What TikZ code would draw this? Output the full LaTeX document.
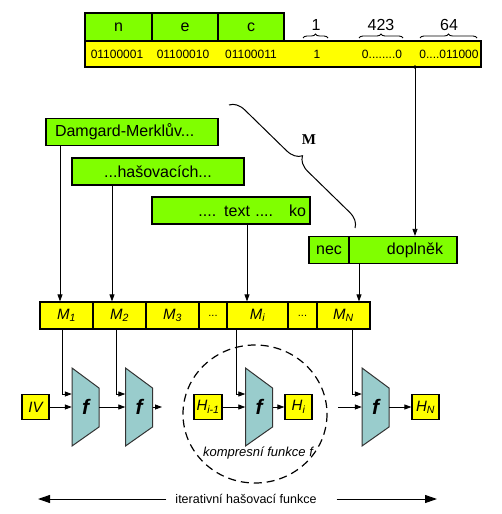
\documentclass[tikz,border=0pt]{standalone}
\usepackage{fontspec}
\setmainfont{Liberation Sans}
\newfontfamily\serifM{Liberation Serif}
\usetikzlibrary{arrows.meta,decorations.pathreplacing}

\definecolor{limeg}{RGB}{128,255,0}
\definecolor{yelw}{RGB}{255,255,0}
\definecolor{ftrap}{RGB}{153,204,204}

\tikzset{
  gbox/.style={draw, line width=1.2pt, fill=limeg, inner sep=0pt, minimum height=27pt,
    font=\fontsize{16}{19}\selectfont},
  ybox/.style={draw, line width=1.2pt, fill=yelw, inner sep=0pt, minimum height=27pt,
    font=\fontsize{15}{18}\selectfont\itshape},
  bit/.style={inner sep=0pt, font=\fontsize{12}{14}\selectfont},
  conn/.style={-{Triangle[length=7pt,width=5pt]}, line width=0.8pt},
  bigconn/.style={-{Triangle[length=12pt,width=8pt]}, line width=1pt},
  trap/.style={fill=ftrap, draw=black!80, line width=1pt},
  fnode/.style={inner sep=0pt, minimum width=27pt, minimum height=78pt,
    font=\fontsize{21}{24}\selectfont\bfseries\itshape},
  brc/.style={decorate, decoration={brace, amplitude=4pt}, line width=0.9pt}
}

\begin{document}
\begin{tikzpicture}[x=1pt, y=-1pt]
    \useasboundingbox (0,0) rectangle (502,514);

    % Message bits
    \node[gbox, minimum width=67pt, minimum height=28pt] (n) at (118.5,27) {n};
    \node[gbox, minimum width=66pt, minimum height=28pt] (e) at (185,27) {e};
    \node[gbox, minimum width=66pt, minimum height=28pt] (c) at (251,27) {c};
    \node[draw, line width=1.5pt, fill=yelw, minimum width=396pt, minimum height=26pt] (bits) at (283,54) {};
    \node[bit] (b1) at (117,54) {01100001};
    \node[bit] (b2) at (183,54) {01100010};
    \node[bit] (b3) at (251,54) {01100011};
    \node[bit] (b4) at (317,54) {1};
    \node[bit] (b5) at (382,54) {0........0};
    \node[bit] (b6) at (449,54) {0....011000};

    % Padding lengths
    \draw[brc] (303,38) -- (328,38);
    \draw[brc] (359,38) -- (403,38);
    \draw[brc] (420,38) -- (477,38);
    \node[font=\fontsize{16}{19}\selectfont] (l1) at (316,25) {1};
    \node[font=\fontsize{16}{19}\selectfont] (l2) at (381,25) {423};
    \node[font=\fontsize{16}{19}\selectfont] (l3) at (449,25) {64};

    % Text blocks
    \node[gbox, minimum width=172pt, text width=154pt, inner xsep=9pt, align=left] (dam) at (132,132) {Damgard-Merklův...};
    \node[gbox, minimum width=172pt] (has) at (158,171.5) {...hašovacích...};
    \node[gbox, minimum width=158pt, text width=150pt, inner xsep=4pt, align=right] (txt) at (231,210.5) {.... text ....\hspace{16pt}ko};
    \node[gbox, minimum width=40pt] (nec) at (329,250) {nec};
    \node[gbox, minimum width=108pt] (dopl) at (403,250) {};
    \node[font=\fontsize{16}{19}\selectfont] (doplt) at (415,250) {doplněk};

    \coordinate (tap) at (415,67);
    \fill (tap) circle (1.8);
    \draw[conn] (tap) -- (tap |- dopl.north);

    % Brace M
    \draw[decorate, decoration={brace, amplitude=15pt}, line width=1pt] (229,105) -- (355,228);
    \node[font=\fontsize{15}{18}\selectfont\serifM\bfseries] (M) at (309,140) {M};

    % Blocks
    \node[ybox, minimum width=53pt] (m1) at (66.5,315.5) {M\textsubscript{1}};
    \node[ybox, minimum width=53pt] (m2) at (119.5,315.5) {M\textsubscript{2}};
    \node[ybox, minimum width=53pt] (m3) at (172.5,315.5) {M\textsubscript{3}};
    \node[ybox, minimum width=28pt, font=\fontsize{11}{13}\selectfont] (md1) at (213,315.5) {...};
    \node[ybox, minimum width=61pt] (mi) at (257.5,315.5) {M\textsubscript{i}};
    \node[ybox, minimum width=29pt, font=\fontsize{11}{13}\selectfont] (md2) at (302.5,315.5) {...};
    \node[ybox, minimum width=53pt] (mN) at (343.5,315.5) {M\textsubscript{N}};

    \draw[conn] (dam.south -| 60,0) -- (m1.north -| 60,0);
    \draw[conn] (has.south -| 112,0) -- (m2.north -| 112,0);
    \draw[conn] (txt.south -| 247,0) -- (mi.north -| 247,0);
    \draw[conn] (dopl.south -| 359,0) -- (mN.north -| 359,0);

    % Compression functions
    \foreach \k/\x in {f1/85.5, f2/139, f3/259, f4/375.5} {
        \filldraw[trap] (\x-13.5,368) -- (\x+13.5,388) -- (\x+13.5,427) -- (\x-13.5,446) -- cycle;
        \node[fnode] (\k) at (\x,407) {f};
    }

    \node[ybox, minimum width=27pt, minimum height=25pt] (iv) at (35.5,407) {IV};
    \node[ybox, minimum width=28pt, minimum height=25pt] (hprev) at (208,407) {H\textsubscript{i-1}};
    \node[ybox, minimum width=27pt, minimum height=25pt] (hi) at (298.5,407) {H\textsubscript{i}};
    \node[ybox, minimum width=27pt, minimum height=25pt] (hN) at (425.5,407) {H\textsubscript{N}};
    \coordinate (gap1) at (162,407);
    \coordinate (gap2) at (338,407);

    \draw[conn] (iv) -- (f1);
    \draw[conn] (f1) -- (f2);
    \draw[conn] (f2) -- (gap1);
    \draw[conn] (hprev) -- (f3);
    \draw[conn] (f3) -- (hi);
    \draw[conn] (gap2) -- (f4);
    \draw[conn] (f4) -- (hN);

    \draw[conn] (m1.south -| 62,0) |- ([yshift=13pt]f1.west);
    \draw[conn] (m2.south -| 116,0) |- ([yshift=13pt]f2.west);
    \draw[conn] (mi.south -| 236,0) |- ([yshift=13pt]f3.west);
    \draw[conn] (mN.south -| 352,0) |- ([yshift=13pt]f4.west);

    % Compression function circle
    \draw[dash pattern=on 8pt off 5pt, line width=1.2pt] (255,414) ellipse [x radius=72, y radius=69];
    \node[font=\fontsize{13}{15}\selectfont\itshape] (komp) at (258,453) {kompresní funkce f};

    % Iterated hash
    \node[font=\fontsize{12.5}{15}\selectfont, inner xsep=9pt] (iter) at (246,499) {iterativní hašovací funkce};
    \coordinate (iterL) at (38,499);
    \coordinate (iterR) at (437,499);
    \draw[bigconn] (iter.west) -- (iterL);
    \draw[bigconn] ([xshift=11pt]iter.east) -- (iterR);
\end{tikzpicture}
\end{document}
